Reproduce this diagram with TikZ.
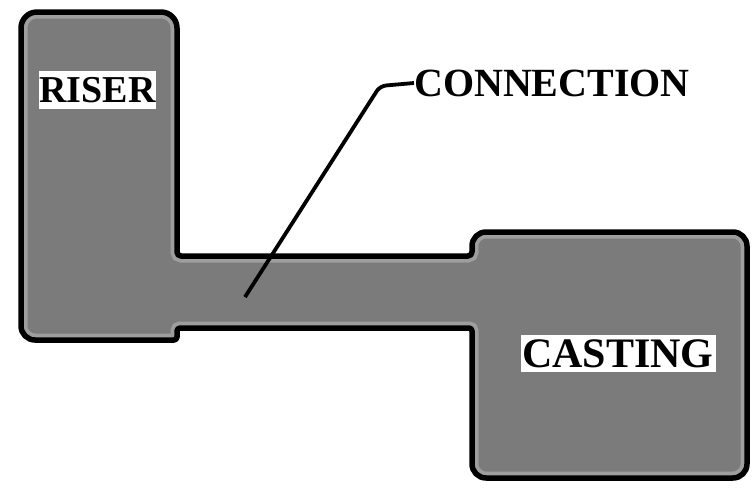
\documentclass[tikz,border=0pt]{standalone}
\usepackage{fontspec}
\setmainfont{Liberation Serif}
\begin{document}
\begin{tikzpicture}[x=1pt,y=-1pt,
  labelbox/.style={fill=white,inner sep=0pt,text=black},
  plainlabel/.style={inner sep=0pt,font=\bfseries\fontsize{40}{42}\selectfont,text=black}]
\useasboundingbox (0,0) rectangle (755,490);
\def\shapepath{(21,40) [rounded corners=16pt] -- (21,12) -- (177,12) [rounded corners=4pt] -- (177,256) -- (472,256) [rounded corners=14pt] -- (472,232) -- (747,232) -- (747,478) -- (472,478) [rounded corners=3pt] -- (472,328) -- (177,328) -- (177,340) [rounded corners=14pt] -- (21,340) [sharp corners] -- cycle}
\fill[fill={rgb,255:red,123;green,123;blue,123}] \shapepath;
\begin{scope}
\clip \shapepath;
\draw[line width=13pt,color={rgb,255:red,158;green,158;blue,158}] \shapepath;
\end{scope}
\draw[line width=5.5pt,line join=round] \shapepath;
\node[labelbox,minimum width=115pt,minimum height=38pt,font=\bfseries\fontsize{38}{40}\selectfont] (riser) at (97.5,90) {RISER};
\node[labelbox,minimum width=195pt,minimum height=37pt,font=\bfseries\fontsize{42}{44}\selectfont] (casting) at (618,353.5) {CASTING};
\node[plainlabel,anchor=west] (conn) at (414,83) {CONNECTION};
\coordinate (tip) at (245,297);
\draw[line width=3.8pt,rounded corners=6pt] (tip) -- (380,86) -- (conn.west);
\end{tikzpicture}
\end{document}
